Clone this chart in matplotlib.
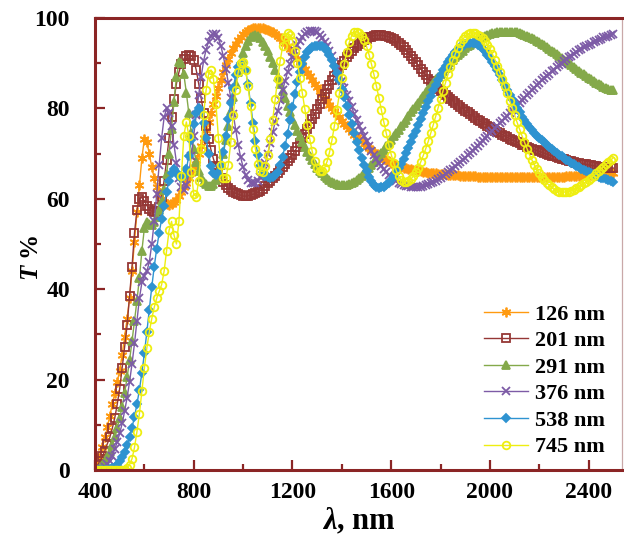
import numpy as np
import matplotlib
matplotlib.use("Agg")
import matplotlib.pyplot as plt
from matplotlib.ticker import MultipleLocator

plt.rcParams["font.family"] = ["Liberation Serif", "DejaVu Serif"]
plt.rcParams["font.weight"] = "bold"
plt.rcParams["mathtext.fontset"] = "custom"
plt.rcParams["mathtext.rm"] = "Liberation Serif:bold"
plt.rcParams["mathtext.it"] = "Liberation Serif:italic:bold"
plt.rcParams["mathtext.bf"] = "Liberation Serif:bold"
plt.rcParams["xtick.direction"] = "in"
plt.rcParams["ytick.direction"] = "in"
plt.rcParams["xtick.major.pad"] = 9
plt.rcParams["ytick.major.pad"] = 18

# wavelength grid, nm (400 ... 2500, step 10)
wavelength = np.arange(400, 2501, 10)

T_126 = [
    0.0, 1.2, 3.0, 5.0, 7.2, 9.5, 12.0, 14.5, 17.0, 19.5,
    22.0, 25.5, 29.5, 33.5, 38.0, 44.0, 50.5, 57.0, 63.0, 69.0,
    73.3, 72.5, 70.0, 67.0, 64.5, 62.5, 61.0, 60.0, 59.2, 58.8,
    58.7, 58.8, 59.2, 59.8, 60.6, 61.5, 62.5, 63.5, 64.6, 65.8,
    67.0, 68.5, 70.0, 71.7, 73.5, 75.3, 77.1, 79.0, 81.0, 82.8,
    84.6, 86.3, 88.0, 89.5, 91.0, 92.2, 93.3, 94.3, 95.2, 95.9,
    96.5, 97.0, 97.3, 97.5, 97.7, 97.8, 97.8, 97.8, 97.7, 97.6,
    97.4, 97.1, 96.8, 96.4, 96.0, 95.5, 95.0, 94.4, 93.8, 93.2,
    92.5, 91.8, 91.0, 90.3, 89.5, 88.7, 87.9, 87.1, 86.3, 85.5,
    84.7, 83.9, 83.1, 82.4, 81.6, 80.8, 80.1, 79.4, 78.7, 78.0,
    77.3, 76.6, 76.0, 75.4, 74.8, 74.2, 73.7, 73.2, 72.7, 72.2,
    71.7, 71.2, 70.8, 70.4, 70.0, 69.6, 69.3, 68.9, 68.6, 68.3,
    68.0, 67.8, 67.5, 67.3, 67.1, 66.9, 66.8, 66.6, 66.5, 66.4,
    66.3, 66.2, 66.1, 66.0, 65.9, 65.8, 65.7, 65.7, 65.6, 65.5,
    65.5, 65.4, 65.4, 65.3, 65.3, 65.2, 65.2, 65.2, 65.1, 65.1,
    65.1, 65.0, 65.0, 65.0, 65.0, 64.9, 64.9, 64.9, 64.9, 64.9,
    64.9, 64.9, 64.8, 64.8, 64.8, 64.8, 64.8, 64.8, 64.8, 64.8,
    64.8, 64.8, 64.8, 64.8, 64.8, 64.8, 64.8, 64.8, 64.8, 64.8,
    64.8, 64.8, 64.8, 64.8, 64.8, 64.9, 64.9, 64.9, 64.9, 64.9,
    64.9, 65.0, 65.0, 65.0, 65.1, 65.1, 65.1, 65.2, 65.2, 65.2,
    65.3, 65.3, 65.4, 65.4, 65.5, 65.5, 65.6, 65.6, 65.7, 65.7,
    65.8,
]

T_201 = [
    0.3, 1.0, 2.0, 3.0, 4.3, 5.8, 7.2, 9.2, 11.5, 14.5,
    18.0, 22.5, 27.2, 32.0, 38.5, 45.0, 52.5, 57.5, 60.0, 60.3,
    59.5, 58.5, 57.7, 57.2, 57.0, 57.2, 58.2, 60.5, 64.0, 68.5,
    73.5, 78.0, 82.0, 85.5, 88.0, 89.8, 91.0, 91.7, 91.9, 91.7,
    90.8, 88.5, 85.5, 82.2, 79.0, 76.0, 73.2, 70.8, 68.8, 67.2,
    65.8, 64.7, 63.8, 63.0, 62.4, 61.9, 61.5, 61.2, 61.0, 60.8,
    60.6, 60.6, 60.7, 60.8, 61.0, 61.2, 61.5, 61.8, 62.2, 62.8,
    63.5, 64.0, 64.5, 65.1, 65.7, 66.3, 67.0, 67.7, 68.4, 69.1,
    69.8, 70.6, 71.5, 72.4, 73.4, 74.4, 75.5, 76.6, 77.7, 78.8,
    79.9, 81.0, 82.1, 83.2, 84.2, 85.2, 86.2, 87.1, 88.0, 88.9,
    89.7, 90.5, 91.3, 92.0, 92.7, 93.3, 93.8, 94.3, 94.7, 95.1,
    95.4, 95.7, 95.9, 96.1, 96.2, 96.2, 96.2, 96.1, 96.0, 95.8,
    95.6, 95.3, 94.9, 94.5, 94.0, 93.5, 92.9, 92.3, 91.6, 90.9,
    90.2, 89.5, 88.7, 88.0, 87.3, 86.6, 86.0, 85.4, 84.9, 84.4,
    83.9, 83.4, 82.9, 82.5, 82.0, 81.6, 81.1, 80.7, 80.3, 79.9,
    79.5, 79.1, 78.7, 78.3, 77.9, 77.5, 77.2, 76.8, 76.5, 76.1,
    75.8, 75.5, 75.1, 74.8, 74.5, 74.2, 73.9, 73.6, 73.3, 73.0,
    72.8, 72.5, 72.3, 72.0, 71.8, 71.5, 71.3, 71.1, 70.9, 70.7,
    70.5, 70.3, 70.1, 69.9, 69.7, 69.5, 69.4, 69.2, 69.0, 68.9,
    68.7, 68.6, 68.4, 68.3, 68.2, 68.0, 67.9, 67.8, 67.7, 67.6,
    67.5, 67.4, 67.3, 67.2, 67.1, 67.1, 67.0, 66.9, 66.9, 66.8,
    66.8,
]

T_291 = [
    0.0, 0.2, 0.5, 1.0, 1.8, 2.8, 4.0, 5.5, 7.2, 9.2,
    11.5, 14.0, 17.0, 20.5, 24.3, 28.5, 33.0, 37.5, 42.5, 48.5,
    53.5, 54.8, 54.5, 54.3, 54.8, 56.0, 57.5, 59.5, 62.0, 65.5,
    70.0, 75.5, 81.5, 87.0, 90.2, 90.0, 87.5, 83.5, 79.0, 74.5,
    71.0, 68.2, 66.2, 64.8, 63.8, 63.2, 62.9, 62.9, 63.2, 64.2,
    65.5, 67.5, 70.0, 73.0, 76.2, 79.5, 82.6, 85.5, 88.1, 90.3,
    92.2, 93.7, 94.9, 95.7, 96.1, 96.2, 96.0, 95.5, 94.8, 93.8,
    92.6, 91.4, 90.0, 88.5, 87.0, 85.4, 83.8, 82.2, 80.6, 79.1,
    77.6, 76.3, 75.0, 73.8, 72.6, 71.5, 70.4, 69.4, 68.5, 67.7,
    66.9, 66.2, 65.6, 65.0, 64.5, 64.1, 63.7, 63.4, 63.2, 63.1,
    63.0, 63.0, 63.1, 63.3, 63.5, 63.8, 64.2, 64.6, 65.1, 65.6,
    66.2, 66.8, 67.5, 68.2, 68.8, 69.5, 70.2, 70.9, 71.6, 72.3,
    73.0, 73.8, 74.5, 75.3, 76.0, 76.8, 77.5, 78.3, 79.1, 79.8,
    80.6, 81.3, 82.1, 82.8, 83.6, 84.3, 85.0, 85.7, 86.4, 87.0,
    87.7, 88.3, 88.9, 89.6, 90.2, 90.8, 91.3, 91.8, 92.3, 92.8,
    93.3, 93.7, 94.1, 94.5, 94.9, 95.2, 95.5, 95.8, 96.0, 96.2,
    96.4, 96.6, 96.7, 96.8, 96.9, 97.0, 97.0, 97.0, 97.0, 96.9,
    96.9, 96.8, 96.6, 96.5, 96.3, 96.1, 95.8, 95.6, 95.3, 95.0,
    94.7, 94.3, 94.0, 93.6, 93.2, 92.8, 92.4, 92.0, 91.6, 91.2,
    90.8, 90.4, 90.0, 89.5, 89.1, 88.7, 88.3, 87.9, 87.5, 87.1,
    86.7, 86.4, 86.0, 85.7, 85.4, 85.1, 84.8, 84.5, 84.3, 84.1,
    84.0,
]

T_376 = [
    0.0, 0.0, 0.1, 0.3, 0.7, 1.3, 2.1, 3.2, 4.6, 6.2,
    8.1, 10.3, 13.0, 16.0, 19.5, 23.5, 28.0, 33.0, 38.0, 41.5,
    43.0, 44.0, 46.0, 50.0, 55.0, 61.0, 67.5, 73.5, 78.0, 80.0,
    79.0, 76.0, 72.0, 68.0, 64.5, 62.5, 62.0, 63.0, 65.5, 69.5,
    74.0, 78.5, 83.0, 87.0, 90.5, 93.0, 94.8, 96.0, 96.5, 96.4,
    95.5, 93.8, 91.5, 88.8, 85.7, 82.3, 78.8, 75.3, 72.0, 69.2,
    67.0, 65.3, 64.2, 63.6, 63.4, 63.5, 64.0, 64.9, 66.2, 67.9,
    70.0, 72.3, 74.7, 77.1, 79.5, 81.8, 84.0, 86.1, 88.0, 89.8,
    91.4, 92.8, 94.0, 95.0, 95.8, 96.4, 96.9, 97.1, 97.2, 97.1,
    96.8, 96.3, 95.6, 94.8, 93.8, 92.7, 91.5, 90.2, 88.8, 87.4,
    86.0, 84.5, 83.0, 81.6, 80.2, 78.8, 77.4, 76.2, 75.0, 73.8,
    72.7, 71.6, 70.6, 69.7, 68.8, 68.0, 67.2, 66.5, 65.9, 65.3,
    64.8, 64.4, 64.0, 63.6, 63.3, 63.1, 62.9, 62.8, 62.7, 62.6,
    62.6, 62.6, 62.7, 62.8, 63.0, 63.2, 63.4, 63.7, 64.0, 64.3,
    64.7, 65.1, 65.5, 65.9, 66.3, 66.7, 67.2, 67.6, 68.1, 68.6,
    69.1, 69.6, 70.1, 70.6, 71.2, 71.7, 72.3, 72.8, 73.4, 73.9,
    74.5, 75.0, 75.6, 76.2, 76.7, 77.3, 77.9, 78.4, 79.0, 79.6,
    80.2, 80.7, 81.3, 81.9, 82.4, 83.0, 83.5, 84.1, 84.6, 85.2,
    85.7, 86.2, 86.7, 87.2, 87.7, 88.2, 88.6, 89.1, 89.5, 89.9,
    90.5, 90.9, 91.3, 91.7, 92.1, 92.5, 92.9, 93.2, 93.5, 93.8,
    94.0, 94.3, 94.6, 94.9, 95.2, 95.4, 95.7, 95.9, 96.1, 96.3,
    96.5,
]

T_538 = [
    0.0, 0.0, 0.0, 0.0, 0.0, 0.1, 0.2, 0.4, 0.7, 1.2,
    1.9, 2.8, 4.0, 5.5, 7.3, 9.4, 11.8, 14.6, 17.8, 21.5,
    25.8, 30.5, 35.5, 40.5, 45.0, 49.0, 52.5, 55.5, 58.5, 61.5,
    64.0, 65.8, 66.5, 66.0, 65.0, 64.5, 65.0, 66.5, 69.5, 73.0,
    76.5, 79.0, 80.0, 79.2, 76.8, 73.5, 70.0, 67.3, 65.8, 65.3,
    65.8, 67.5, 70.3, 73.8, 77.6, 81.3, 84.6, 87.3, 89.2, 90.1,
    90.0, 88.4, 85.3, 81.2, 76.8, 72.8, 69.6, 67.3, 65.9, 65.1,
    64.8, 64.7, 64.8, 65.2, 66.0, 67.4, 69.3, 71.7, 74.4, 77.4,
    80.4, 83.2, 85.8, 88.0, 89.8, 91.3, 92.4, 93.2, 93.6, 93.8,
    93.8, 93.8, 93.7, 93.3, 92.6, 91.8, 90.7, 89.3, 87.9, 86.2,
    84.4, 82.5, 80.5, 78.5, 76.5, 74.5, 72.6, 70.7, 69.0, 67.4,
    66.1, 64.9, 63.9, 63.1, 62.6, 62.4, 62.5, 62.7, 63.1, 63.6,
    64.2, 65.0, 65.8, 66.8, 67.8, 68.9, 70.1, 71.3, 72.5, 73.8,
    75.1, 76.4, 77.7, 79.0, 80.3, 81.6, 82.8, 84.0, 85.2, 86.3,
    87.4, 88.4, 89.3, 90.2, 91.0, 91.8, 92.5, 93.0, 93.5, 93.9,
    94.2, 94.4, 94.5, 94.5, 94.4, 94.1, 93.7, 93.2, 92.6, 91.9,
    91.1, 90.3, 89.4, 88.4, 87.3, 86.2, 85.1, 84.0, 83.0, 82.0,
    81.0, 80.0, 79.1, 78.2, 77.4, 76.6, 75.9, 75.2, 74.6, 74.0,
    73.5, 73.0, 72.5, 72.0, 71.5, 71.0, 70.6, 70.2, 69.8, 69.4,
    69.0, 68.6, 68.3, 67.9, 67.6, 67.3, 67.0, 66.7, 66.4, 66.1,
    65.9, 65.6, 65.4, 65.1, 64.9, 64.7, 64.5, 64.3, 64.1, 63.9,
    63.7,
]

T_745 = [
    0.0, 0.0, 0.0, 0.0, 0.0, 0.0, 0.0, 0.0, 0.0, 0.0,
    0.0, 0.0, 0.1, 0.5, 1.2, 2.5, 5.0, 8.5, 12.5, 17.5,
    22.5, 27.0, 30.5, 33.5, 36.0, 38.0, 39.5, 41.0, 44.0, 48.5,
    53.0, 55.0, 52.0, 50.0, 55.0, 65.0, 74.0, 77.0, 74.0, 66.0,
    61.0, 60.5, 64.0, 71.0, 78.5, 84.0, 87.5, 88.5, 86.5, 81.0,
    73.5, 67.5, 64.5, 64.5, 67.5, 72.5, 78.5, 84.0, 88.0, 90.0,
    90.2, 88.5, 85.0, 80.5, 75.5, 71.0, 67.8, 66.2, 66.0, 67.2,
    69.7, 73.2, 77.5, 82.0, 86.5, 90.5, 93.7, 95.8, 96.6, 96.3,
    95.0, 92.8, 90.0, 86.8, 83.4, 79.9, 76.4, 73.2, 70.5, 68.3,
    66.8, 66.1, 66.1, 66.8, 68.2, 70.3, 73.0, 76.2, 79.7, 83.3,
    86.7, 89.8, 92.5, 94.6, 96.1, 96.9, 97.0, 96.7, 96.1, 95.1,
    93.7, 91.9, 89.8, 87.5, 85.0, 82.4, 79.7, 77.0, 74.5, 72.0,
    69.8, 67.9, 66.3, 65.0, 64.2, 63.7, 63.7, 64.0, 64.4, 65.0,
    65.9, 66.9, 68.2, 69.6, 71.1, 72.7, 74.5, 76.3, 78.2, 80.1,
    82.0, 83.9, 85.7, 87.5, 89.2, 90.7, 92.1, 93.4, 94.4, 95.3,
    96.0, 96.4, 96.7, 96.7, 96.6, 96.3, 96.0, 95.5, 94.9, 94.1,
    93.1, 92.0, 90.8, 89.4, 88.0, 86.5, 84.9, 83.3, 81.7, 80.1,
    78.5, 76.9, 75.4, 73.9, 72.5, 71.1, 69.8, 68.6, 67.5, 66.5,
    65.6, 64.8, 64.1, 63.5, 63.0, 62.5, 62.1, 61.8, 61.6, 61.5,
    61.5, 61.5, 61.6, 61.8, 62.0, 62.3, 62.6, 63.0, 63.4, 63.8,
    64.2, 64.7, 65.1, 65.6, 66.1, 66.6, 67.1, 67.6, 68.1, 68.6,
    69.1,
]

labels = ["126 nm", "201 nm", "291 nm", "376 nm", "538 nm", "745 nm"]
series = [T_126, T_201, T_291, T_376, T_538, T_745]

colors = ["#FF9A10", "#953735", "#84A94A", "#7D5BA6", "#2E93D1", "#EEEE11"]
markers = [(6, 2, 0), "s", "^", "x", "D", "o"]
msizes = [7, 5.2, 5.5, 6, 3.6, 5.5]
filled = [True, False, True, True, True, False]

spine_col = "#8B2525"

fig = plt.figure(figsize=(6.24, 5.56), dpi=100)
ax = fig.add_axes([95 / 624, 86 / 556, 527 / 624, 452 / 556])

for y, lab, c, m, ms, f in zip(series, labels, colors, markers, msizes, filled):
    ax.plot(wavelength, y, color=c, lw=1.0, marker=m, ms=ms,
            mfc=c if f else "none", mec=c, mew=1.3, label=lab)

ax.set_xlim(400, 2535)
ax.set_ylim(0, 100)
ax.xaxis.set_major_locator(MultipleLocator(400))
ax.xaxis.set_minor_locator(MultipleLocator(200))
ax.yaxis.set_major_locator(MultipleLocator(20))
ax.yaxis.set_minor_locator(MultipleLocator(10))

for side in ("left", "bottom", "top"):
    ax.spines[side].set_color(spine_col)
    ax.spines[side].set_linewidth(2.2)
ax.spines["right"].set_color("#C9A8A8")
ax.spines["right"].set_linewidth(0.9)

ax.tick_params(which="both", color=spine_col, width=1.6,
               top=False, right=False, labelsize=17)
ax.tick_params(which="major", length=7)
ax.tick_params(which="minor", length=4)
ax.yaxis.set_tick_params(which="major", pad=18)
ax.xaxis.set_tick_params(which="major", pad=9)
for t in ax.get_xticklabels() + ax.get_yticklabels():
    t.set_fontweight("bold")

ax.set_xlabel(r"$\lambda$, nm", fontsize=22, fontweight="bold", labelpad=2)
ax.set_ylabel(r"$T$ %", fontsize=18, fontweight="bold")
ax.yaxis.set_label_coords((43 - 95) / 527, 0.47)

leg = ax.legend(loc="upper left", bbox_to_anchor=(484 / 624, 1 - 304 / 556),
                bbox_transform=fig.transFigure, frameon=False, fontsize=16,
                handlelength=2.0, handletextpad=0.3, labelspacing=0.27,
                borderpad=0, borderaxespad=0, numpoints=1)

fig.savefig("out.png", dpi=100)
